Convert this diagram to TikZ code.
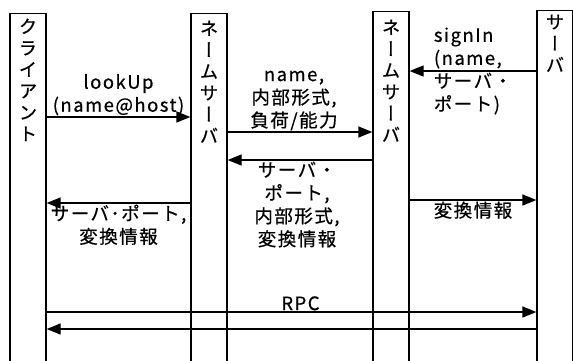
\documentclass[tikz,border=0pt]{standalone}
\usepackage{fontspec}
\setmainfont{Noto Sans CJK JP}[FakeBold=0.6,LetterSpace=8]
\newfontfamily\tate[RawFeature=+vert,FakeBold=0.6]{Noto Sans CJK JP}
\usepackage{tikz}
\usetikzlibrary{arrows.meta,positioning}

\begin{document}
\begin{tikzpicture}[x=1pt,y=-1pt,->,>={Triangle[length=14pt,width=11pt]},line width=1.3pt,
		lifeline/.style={draw,-,rectangle,minimum width=36pt,minimum height=420pt,anchor=north,inner sep=0pt},
		colname/.style={font=\tate\fontsize{18.5}{21.5}\selectfont,align=center,inner sep=0pt,anchor=north},
		msg/.style={font=\fontsize{18.5}{23}\selectfont,align=center,inner sep=1pt}]
	\useasboundingbox (0,0) rectangle (573,360);

	\node[lifeline] (Cl) at (28,13) {};
	\node[lifeline] (NS1) at (209,13) {};
	\node[lifeline] (NS2) at (391,11) {};
	\node[lifeline] (Srv) at (555,10) {};

	\node[colname] (ClName) [below=5pt of Cl.north] {ク\\ラ\\イ\\ア\\ン\\ト};
	\node[colname] (NS1Name) [below=7pt of NS1.north] {ネ\\ー\\ム\\サ\\ー\\バ};
	\node[colname] (NS2Name) [below=8pt of NS2.north] {ネ\\ー\\ム\\サ\\ー\\バ};
	\node[colname] (SrvName) [below=4pt of Srv.north] {サ\\ー\\バ};

	\draw (Cl.east |- 0,117) -- node[msg,above] {lookUp\\(name@host)} (NS1.west |- 0,117);
	\draw (NS1.east |- 0,132) -- node[msg,above,xshift=-6pt] {name,\\内部形式,\\負荷/能力} (NS2.west |- 0,132);
	\draw (NS2.west |- 0,160) -- node[msg,below,xshift=-3pt] {サーバ・\\ポート,\\内部形式,\\変換情報} (NS1.east |- 0,160);
	\draw (Srv.west |- 0,71) -- node[msg,align=left] {signIn\\(name,\\サーバ・\\ポート)} (NS2.east |- 0,71);
	\draw (NS1.west |- 0,203) -- node[msg,below] {サーバ･ポート,\\変換情報} (Cl.east |- 0,203);
	\draw (NS2.east |- 0,200) -- node[msg,below] {変換情報} (Srv.west |- 0,200);
	\draw (Cl.east |- 0,312) -- node[msg,above,xshift=9pt] {RPC} (Srv.west |- 0,312);
	\draw (Srv.west |- 0,329) -- (Cl.east |- 0,329);
\end{tikzpicture}
\end{document}
